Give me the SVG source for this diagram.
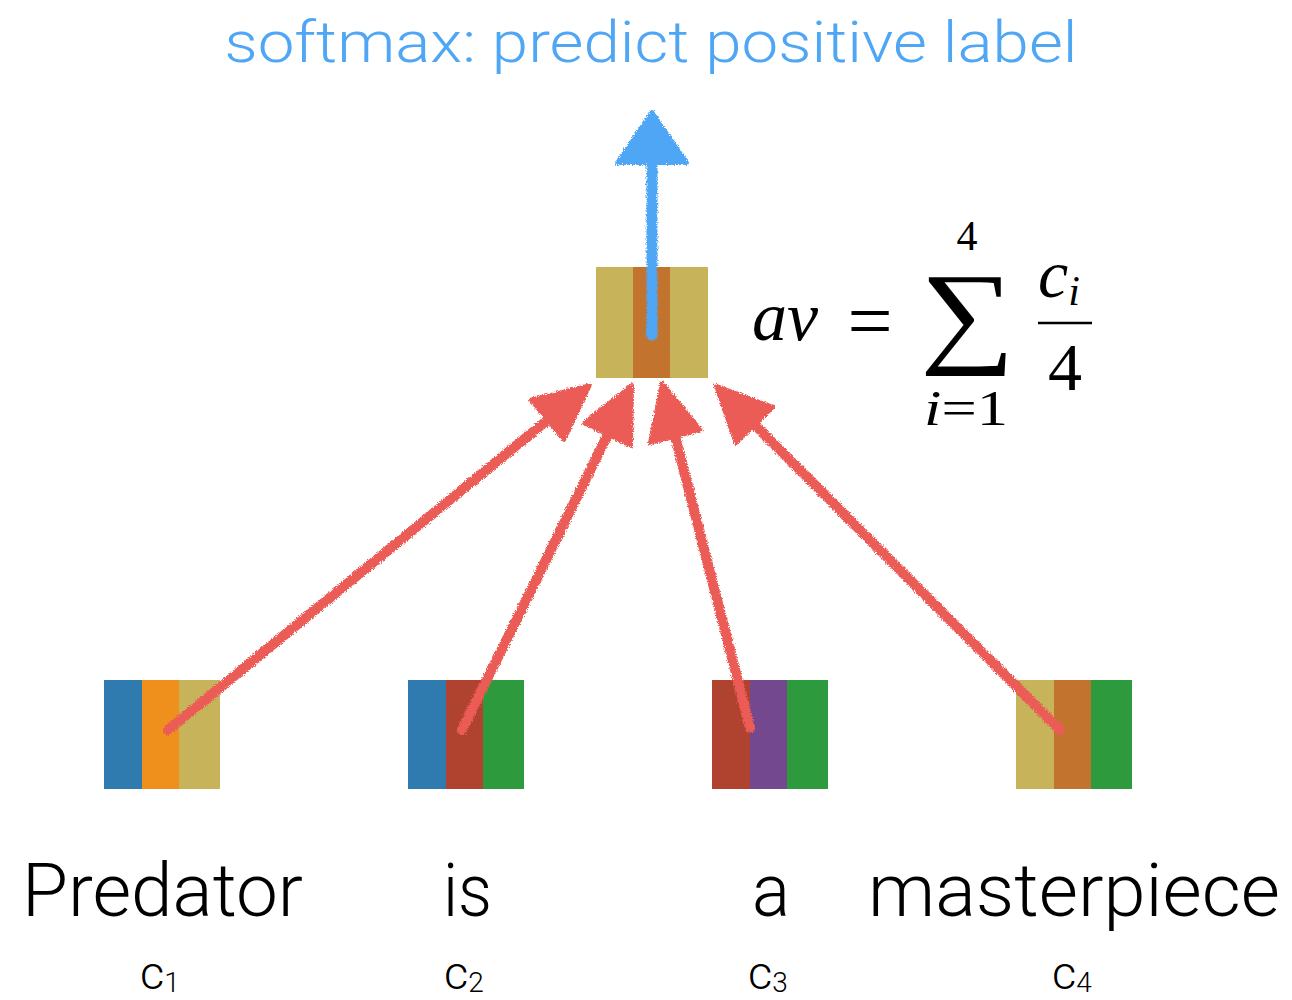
<svg xmlns="http://www.w3.org/2000/svg" width="1292" height="1000" viewBox="0 0 1292 1000">
<style>
.word{font-family:Roboto,"Liberation Sans",sans-serif;font-weight:300;fill:#000}
.title{font-family:Roboto,"Liberation Sans",sans-serif;font-weight:300;fill:#4fa6f5}
.math{font-family:"Liberation Serif","DejaVu Serif",serif;fill:#000}
.red{stroke:#ec5b56;stroke-width:10;stroke-linecap:round;fill:none}
.redhead{fill:#ec5b56;stroke:#ec5b56;stroke-width:4;stroke-linejoin:round}
</style>
<defs>
<filter id="crayon" x="-10%" y="-10%" width="120%" height="120%">
<feTurbulence type="fractalNoise" baseFrequency="0.9" numOctaves="2" seed="3" result="n"/>
<feDisplacementMap in="SourceGraphic" in2="n" scale="5" xChannelSelector="R" yChannelSelector="G"/>
</filter>
</defs>
<rect width="1292" height="1000" fill="#fff"/>

<text class="title" x="651" y="62" font-size="58" text-anchor="middle" textLength="853" lengthAdjust="spacingAndGlyphs">softmax: predict positive label</text>

<g id="node-av">
<rect x="596" y="267" width="38" height="111" fill="#c6b35a"/>
<rect x="633" y="267" width="38" height="111" fill="#c2742e"/>
<rect x="670" y="267" width="38" height="111" fill="#c6b35a"/>
</g>

<g id="node-c1">
<rect x="104" y="680" width="39" height="109" fill="#2f7bb0"/>
<rect x="142" y="680" width="38" height="109" fill="#f0901c"/>
<rect x="179" y="680" width="41" height="109" fill="#c6b35a"/>
</g>
<g id="node-c2">
<rect x="408" y="680" width="39" height="109" fill="#2f7bb0"/>
<rect x="446" y="680" width="38" height="109" fill="#b0432f"/>
<rect x="483" y="680" width="41" height="109" fill="#2e9a3e"/>
</g>
<g id="node-c3">
<rect x="712" y="680" width="39" height="109" fill="#b0432f"/>
<rect x="750" y="680" width="38" height="109" fill="#74488f"/>
<rect x="787" y="680" width="41" height="109" fill="#2e9a3e"/>
</g>
<g id="node-c4">
<rect x="1016" y="680" width="39" height="109" fill="#c6b35a"/>
<rect x="1054" y="680" width="38" height="109" fill="#c2742e"/>
<rect x="1091" y="680" width="41" height="109" fill="#2e9a3e"/>
</g>

<g id="connectors" filter="url(#crayon)">
<g id="edge-av-softmax">
<line x1="652" y1="335" x2="652" y2="160" stroke="#4fa6f5" stroke-width="11" stroke-linecap="round"/>
<polygon points="652,112 687,163 617,163" fill="#4fa6f5" stroke="#4fa6f5" stroke-width="4" stroke-linejoin="round"/>
</g>
<g id="edge-c1-av">
<line class="red" x1="168" y1="730" x2="550" y2="418"/>
<polygon class="redhead" points="590,385 564,440 531,400"/>
</g>
<g id="edge-c2-av">
<line class="red" x1="462" y1="730" x2="610" y2="430"/>
<polygon class="redhead" points="632,385 631,446 584,423"/>
</g>
<g id="edge-c3-av">
<line class="red" x1="750" y1="728" x2="674" y2="432"/>
<polygon class="redhead" points="662,383 701,430 650,443"/>
</g>
<g id="edge-c4-av">
<line class="red" x1="1060" y1="730" x2="752" y2="422"/>
<polygon class="redhead" points="716,386 773,407 736,443"/>
</g>
</g>

<g id="formula">
<text class="math" x="752" y="340" font-size="70" font-style="italic">av</text>
<text class="math" x="870" y="348" font-size="80" text-anchor="middle">=</text>
<text class="math" x="967" y="250" font-size="42" text-anchor="middle">4</text>
<text class="math" x="920" y="352" font-size="114" textLength="95" lengthAdjust="spacingAndGlyphs">∑</text>
<text class="math" x="924" y="425" font-size="50" textLength="84" lengthAdjust="spacingAndGlyphs"><tspan font-style="italic">i</tspan>=1</text>
<text class="math" x="1038" y="297" font-size="68" font-style="italic">c<tspan font-size="42" dy="8">i</tspan></text>
<line x1="1038" y1="323" x2="1092" y2="323" stroke="#000" stroke-width="2.5"/>
<text class="math" x="1065" y="390" font-size="68" text-anchor="middle">4</text>
</g>

<g id="labels">
<text class="word" x="22" y="916" font-size="74" textLength="281" lengthAdjust="spacingAndGlyphs">Predator</text>
<text class="word" x="443" y="916" font-size="74" textLength="49" lengthAdjust="spacingAndGlyphs">is</text>
<text class="word" x="752" y="916" font-size="74" textLength="38" lengthAdjust="spacingAndGlyphs">a</text>
<text class="word" x="868" y="916" font-size="74" textLength="412" lengthAdjust="spacingAndGlyphs">masterpiece</text>
<text class="word" x="140" y="989" font-size="47">c<tspan font-size="28" dy="3">1</tspan></text>
<text class="word" x="444" y="989" font-size="47">c<tspan font-size="28" dy="3">2</tspan></text>
<text class="word" x="748" y="989" font-size="47">c<tspan font-size="28" dy="3">3</tspan></text>
<text class="word" x="1052" y="989" font-size="47">c<tspan font-size="28" dy="3">4</tspan></text>
</g>
</svg>
